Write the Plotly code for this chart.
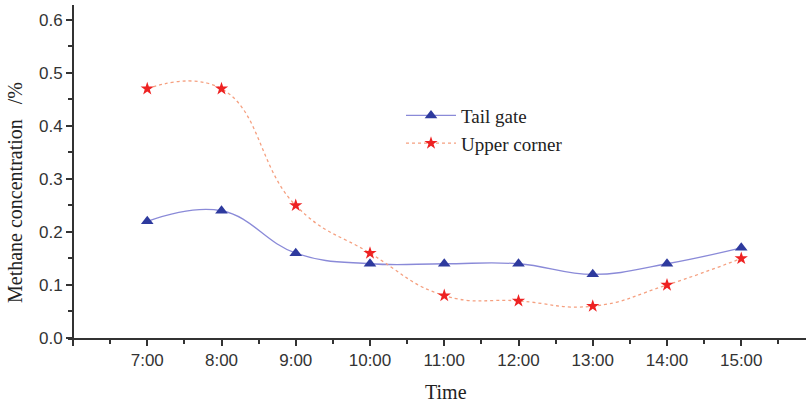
import plotly.graph_objects as go

hours = [7, 8, 9, 10, 11, 12, 13, 14, 15]
tick_vals = [6, 7, 8, 9, 10, 11, 12, 13, 14, 15]
tick_text = ["", "7:00", "8:00", "9:00", "10:00", "11:00", "12:00", "13:00", "14:00", "15:00"]
tail_gate = [0.22, 0.24, 0.16, 0.14, 0.14, 0.14, 0.12, 0.14, 0.17]
upper_corner = [0.47, 0.47, 0.25, 0.16, 0.08, 0.07, 0.06, 0.10, 0.15]

W, H = 811, 404
L, R, T, B = 68, 5, 5, 66
pw = W - L - R
ph = H - T - B
px_per_hr = (742 - 148) / 8.0
x0 = 6 - 5 / px_per_hr
x1 = 6 + (806 - 73) / px_per_hr

fig = go.Figure()
fig.add_trace(go.Scatter(
    x=hours, y=tail_gate, name="Tail gate", mode="lines+markers",
    line=dict(color="#8a8ad8", width=1.3, shape="spline", smoothing=1.2),
    marker=dict(symbol="triangle-up", size=11, color="#2e3a9e"),
))
fig.add_trace(go.Scatter(
    x=hours, y=upper_corner, name="Upper corner", mode="lines+markers",
    line=dict(color="#f5a080", width=1.3, dash="dot", shape="spline", smoothing=1.3),
    marker=dict(symbol="star", size=10, color="#ee2222"),
))

axis_font = dict(family="Liberation Sans", size=17, color="#333")
serif = dict(family="Liberation Serif", size=20, color="#222")

fig.update_layout(
    width=W, height=H,
    margin=dict(l=L, r=R, t=T, b=B),
    plot_bgcolor="white", paper_bgcolor="white",
    showlegend=True,
    legend=dict(x=(401 - L) / pw, y=0.725, xanchor="left", yanchor="top",
                font=dict(family="Liberation Serif", size=19, color="#222"),
                bgcolor="rgba(0,0,0,0)", tracegroupgap=0, itemwidth=50),
    xaxis=dict(range=[x0, x1], tickvals=tick_vals, ticktext=tick_text,
               showline=True, linecolor="#333", linewidth=2, ticks="outside",
               ticklen=6, tickwidth=1.5, tickcolor="#333", showgrid=False, zeroline=False,
               tickfont=axis_font,
               minor=dict(dtick=0.5, tick0=6.5, ticks="outside", ticklen=4, tickcolor="#333", tickwidth=1.5)),
    yaxis=dict(range=[0, 0.628], tickvals=[0, 0.1, 0.2, 0.3, 0.4, 0.5, 0.6],
               ticktext=["0.0", "0.1", "0.2", "0.3", "0.4", "0.5", "0.6"],
               anchor="free", position=(73 - L) / pw,
               showline=True, linecolor="#333", linewidth=2, ticks="outside",
               ticklen=6, tickwidth=1.5, tickcolor="#333", showgrid=False, zeroline=False,
               tickfont=axis_font,
               minor=dict(dtick=0.05, tick0=0.05, ticks="outside", ticklen=4, tickcolor="#333", tickwidth=1.5)),
    annotations=[
        dict(text="Methane concentration   /%", textangle=-90,
             x=(15 - L) / pw, y=(H - B - 193) / ph, xanchor="center", yanchor="middle",
             xref="paper", yref="paper", showarrow=False, font=serif),
        dict(text="Time", x=(446 - L) / pw, y=(H - B - 392) / ph, xanchor="center", yanchor="middle",
             xref="paper", yref="paper", showarrow=False, font=serif),
    ],
)
fig.write_html("out.html")
